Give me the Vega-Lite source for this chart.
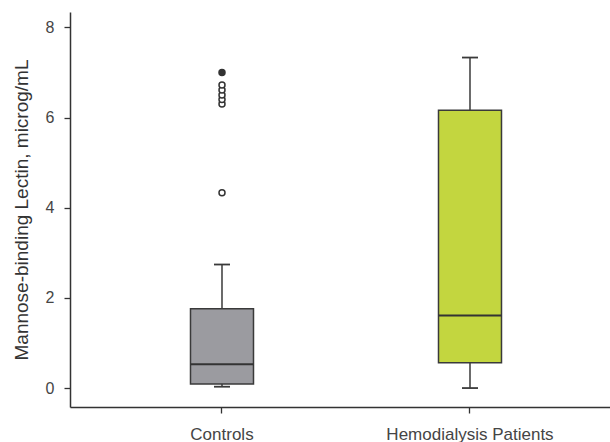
{
  "$schema": "https://vega.github.io/schema/vega-lite/v6.json",
  "width": 540,
  "height": 395,
  "autosize": "none",
  "padding": {"left": 70, "top": 12, "right": 0, "bottom": 35},
  "config": {
    "view": {"stroke": null},
    "font": "Liberation Sans",
    "axis": {
      "grid": false,
      "domainColor": "#333333",
      "domainWidth": 1.5,
      "tickColor": "#333333",
      "tickWidth": 1.3,
      "labelColor": "#454545",
      "labelFont": "Liberation Sans",
      "labelFontSize": 16,
      "titleFont": "Liberation Sans",
      "titleFontSize": 19,
      "titleFontWeight": "normal",
      "titleColor": "#333333"
    }
  },
  "datasets": {
    "boxes": [
      {"group": "Controls", "min": 0.03, "q1": 0.09, "median": 0.53, "q3": 1.76, "max": 2.74},
      {"group": "Hemodialysis Patients", "min": 0.0, "q1": 0.56, "median": 1.61, "q3": 6.16, "max": 7.33}
    ],
    "outliers": [
      {"group": "Controls", "value": 4.33, "kind": "outlier"},
      {"group": "Controls", "value": 6.3, "kind": "outlier"},
      {"group": "Controls", "value": 6.4, "kind": "outlier"},
      {"group": "Controls", "value": 6.5, "kind": "outlier"},
      {"group": "Controls", "value": 6.61, "kind": "outlier"},
      {"group": "Controls", "value": 6.72, "kind": "outlier"},
      {"group": "Controls", "value": 7.0, "kind": "extreme"}
    ]
  },
  "encoding": {
    "x": {
      "field": "group",
      "type": "nominal",
      "sort": ["Controls", "Hemodialysis Patients"],
      "scale": {"domain": ["Controls", "Hemodialysis Patients"], "paddingInner": 0.5, "paddingOuter": 0.3387, "align": 0.5357},
      "axis": {"title": null, "labelAngle": 0, "tickSize": 6, "labelPadding": 13, "labelFontSize": 17}
    }
  },
  "layer": [
    {
      "data": {"name": "boxes"},
      "mark": {"type": "rule", "color": "#3a3a3a", "strokeWidth": 1.5},
      "encoding": {
        "y": {
          "field": "min",
          "type": "quantitative",
          "scale": {"domain": [-0.42, 8.34], "nice": false, "zero": false},
          "axis": {"title": "Mannose-binding Lectin, microg/mL", "values": [0, 2, 4, 6, 8], "tickSize": 6, "labelPadding": 10, "titlePadding": 14}
        },
        "y2": {"field": "max"}
      }
    },
    {
      "data": {"name": "boxes"},
      "mark": {"type": "bar", "size": 63, "stroke": "#3a3a3a", "strokeWidth": 1.5},
      "encoding": {
        "y": {"field": "q1", "type": "quantitative"},
        "y2": {"field": "q3"},
        "color": {
          "field": "group",
          "type": "nominal",
          "scale": {"domain": ["Controls", "Hemodialysis Patients"], "range": ["#9b9ba0", "#c3d63f"]},
          "legend": null
        }
      }
    },
    {
      "data": {"name": "boxes"},
      "mark": {"type": "tick", "size": 63, "thickness": 2, "color": "#333333", "opacity": 1},
      "encoding": {"y": {"field": "median", "type": "quantitative"}}
    },
    {
      "data": {"name": "boxes"},
      "mark": {"type": "tick", "size": 16, "thickness": 1.8, "color": "#3a3a3a", "opacity": 1},
      "encoding": {"y": {"field": "min", "type": "quantitative"}}
    },
    {
      "data": {"name": "boxes"},
      "mark": {"type": "tick", "size": 16, "thickness": 1.8, "color": "#3a3a3a", "opacity": 1},
      "encoding": {"y": {"field": "max", "type": "quantitative"}}
    },
    {
      "data": {"name": "outliers"},
      "mark": {"type": "point", "shape": "circle", "filled": false, "size": 36, "strokeWidth": 1.5, "color": "#333333", "opacity": 1},
      "encoding": {
        "y": {"field": "value", "type": "quantitative"},
        "fill": {
          "field": "kind",
          "type": "nominal",
          "scale": {"domain": ["extreme", "outlier"], "range": ["#333333", "#ffffff"]},
          "legend": null
        }
      }
    }
  ]
}
